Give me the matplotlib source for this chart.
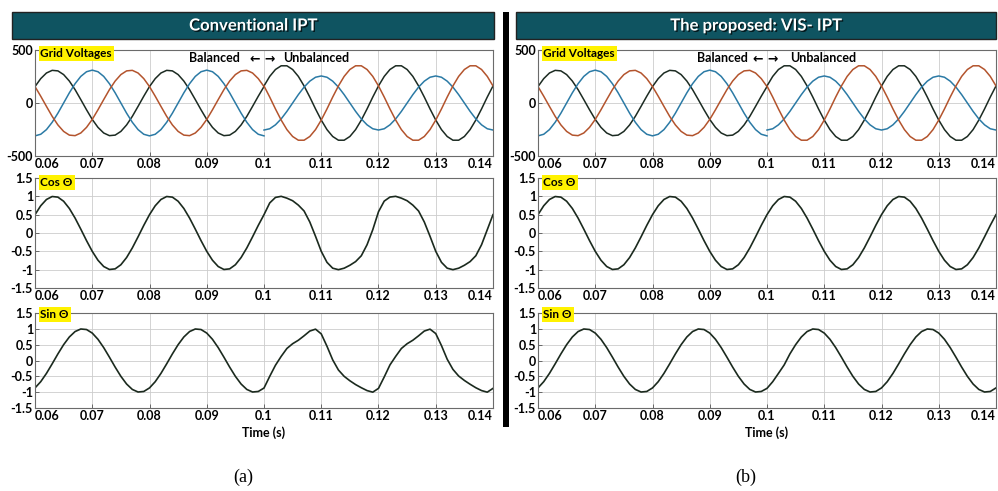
import numpy as np
import matplotlib
matplotlib.use("Agg")
import matplotlib.pyplot as plt
from matplotlib.patches import Rectangle
import matplotlib.patheffects as pe

plt.rcParams['font.family'] = ['Lato', 'DejaVu Sans']
plt.rcParams['font.weight'] = 'bold'

# time grid in seconds (1 ms steps)
t_bal = np.arange(60, 101) / 1000
t_unb = np.arange(100, 141) / 1000
t_all = np.arange(60, 141) / 1000

# grid voltages, balanced part 0.06 - 0.1 s (V)
va_bal = [155, 230, 283, 308, 303, 268, 207, 126, 32, -64,
          -155, -230, -283, -308, -303, -268, -207, -126, -32, 64,
          155, 230, 283, 308, 303, 268, 207, 126, 32, -64,
          -155, -230, -283, -308, -303, -268, -207, -126, -32, 64, 155]
vb_bal = [-310, -295, -251, -182, -96, 0, 96, 182, 251, 295,
          310, 295, 251, 182, 96, 0, -96, -182, -251, -295,
          -310, -295, -251, -182, -96, 0, 96, 182, 251, 295,
          310, 295, 251, 182, 96, 0, -96, -182, -251, -295, -310]
vc_bal = [155, 64, -32, -126, -207, -268, -303, -308, -283, -230,
          -155, -64, 32, 126, 207, 268, 303, 308, 283, 230,
          155, 64, -32, -126, -207, -268, -303, -308, -283, -230,
          -155, -64, 32, 126, 207, 268, 303, 308, 283, 230, 155]

# grid voltages, unbalanced part 0.1 - 0.14 s (V)
va_unb = [161, 251, 316, 351, 351, 316, 251, 161, 56, -56,
          -161, -251, -316, -351, -351, -316, -251, -161, -56, 56,
          161, 251, 316, 351, 351, 316, 251, 161, 56, -56,
          -161, -251, -316, -351, -351, -316, -251, -161, -56, 56, 161]
vb_unb = [-255, -243, -206, -150, -79, 0, 79, 150, 206, 243,
          255, 243, 206, 150, 79, 0, -79, -150, -206, -243,
          -255, -243, -206, -150, -79, 0, 79, 150, 206, 243,
          255, 243, 206, 150, 79, 0, -79, -150, -206, -243, -255]
vc_unb = [161, 56, -56, -161, -251, -316, -351, -351, -316, -251,
          -161, -56, 56, 161, 251, 316, 351, 351, 316, 251,
          161, 56, -56, -161, -251, -316, -351, -351, -316, -251,
          -161, -56, 56, 161, 251, 316, 351, 351, 316, 251, 161]

# (a) conventional IPT: cos / sin of the estimated angle, 0.06 - 0.14 s
cos_conv = [0.5, 0.743, 0.914, 0.995, 0.978, 0.866, 0.669, 0.407, 0.105, -0.208,
            -0.5, -0.743, -0.914, -0.995, -0.978, -0.866, -0.669, -0.407, -0.105, 0.208,
            0.5, 0.743, 0.914, 0.995, 0.978, 0.866, 0.669, 0.407, 0.105, -0.208,
            -0.5, -0.743, -0.914, -0.995, -0.978, -0.866, -0.669, -0.407, -0.105, 0.208,
            0.5, 0.82, 0.97, 1.0, 0.95, 0.88, 0.76, 0.60, 0.30, -0.09,
            -0.50, -0.80, -0.96, -1.0, -0.96, -0.88, -0.78, -0.62, -0.32, 0.09,
            0.58, 0.87, 0.98, 1.0, 0.95, 0.88, 0.76, 0.60, 0.30, -0.09,
            -0.50, -0.80, -0.96, -1.0, -0.96, -0.88, -0.78, -0.62, -0.32, 0.09, 0.5]
sin_conv = [-0.866, -0.669, -0.407, -0.105, 0.208, 0.5, 0.743, 0.914, 0.995, 0.978,
            0.866, 0.669, 0.407, 0.105, -0.208, -0.5, -0.743, -0.914, -0.995, -0.978,
            -0.866, -0.669, -0.407, -0.105, 0.208, 0.5, 0.743, 0.914, 0.995, 0.978,
            0.866, 0.669, 0.407, 0.105, -0.208, -0.5, -0.743, -0.914, -0.995, -0.978,
            -0.87, -0.50, -0.15, 0.13, 0.38, 0.53, 0.64, 0.78, 0.93, 0.99,
            0.84, 0.45, 0.02, -0.30, -0.50, -0.64, -0.76, -0.86, -0.95, -1.0,
            -0.88, -0.52, -0.14, 0.13, 0.38, 0.53, 0.64, 0.78, 0.93, 0.99,
            0.85, 0.47, 0.04, -0.28, -0.49, -0.63, -0.75, -0.86, -0.95, -1.0, -0.88]

# (b) proposed VIS-IPT
cos_vis = [0.5, 0.743, 0.914, 0.995, 0.978, 0.866, 0.669, 0.407, 0.105, -0.208,
           -0.5, -0.743, -0.914, -0.995, -0.978, -0.866, -0.669, -0.407, -0.105, 0.208,
           0.5, 0.743, 0.914, 0.995, 0.978, 0.866, 0.669, 0.407, 0.105, -0.208,
           -0.5, -0.743, -0.914, -0.995, -0.978, -0.866, -0.669, -0.407, -0.105, 0.208,
           0.5, 0.743, 0.914, 0.995, 0.978, 0.866, 0.669, 0.407, 0.105, -0.208,
           -0.5, -0.743, -0.914, -0.995, -0.978, -0.866, -0.669, -0.407, -0.105, 0.208,
           0.5, 0.743, 0.914, 0.995, 0.978, 0.866, 0.669, 0.407, 0.105, -0.208,
           -0.5, -0.743, -0.914, -0.995, -0.978, -0.866, -0.669, -0.407, -0.105, 0.208, 0.5]
sin_vis = [-0.866, -0.669, -0.407, -0.105, 0.208, 0.5, 0.743, 0.914, 0.995, 0.978,
           0.866, 0.669, 0.407, 0.105, -0.208, -0.5, -0.743, -0.914, -0.995, -0.978,
           -0.866, -0.669, -0.407, -0.105, 0.208, 0.5, 0.743, 0.914, 0.995, 0.978,
           0.866, 0.669, 0.407, 0.105, -0.208, -0.5, -0.743, -0.914, -0.995, -0.978,
           -0.88, -0.669, -0.407, -0.14, 0.208, 0.5, 0.743, 0.914, 0.995, 0.978,
           0.866, 0.669, 0.407, 0.105, -0.208, -0.5, -0.743, -0.914, -0.995, -0.978,
           -0.866, -0.669, -0.407, -0.105, 0.208, 0.5, 0.743, 0.914, 0.995, 0.978,
           0.866, 0.669, 0.407, 0.105, -0.208, -0.5, -0.743, -0.914, -0.995, -0.978, -0.866]

xticks = [0.06, 0.07, 0.08, 0.09, 0.1, 0.11, 0.12, 0.13, 0.14]
xlabels = ['0.06', '0.07', '0.08', '0.09', '0.1', '0.11', '0.12', '0.13', '0.14']
v_ticks = [-500, 0, 500]
v_labels = ['-500', '0', '500']
u_ticks = [-1.5, -1, -0.5, 0, 0.5, 1, 1.5]
u_labels = ['-1.5', '-1', '-0.5', '0', '0.5', '1', '1.5']

C_A, C_B, C_C = '#1c2b22', '#2b7aa5', '#b3542d'
C_TRACE = '#1b2a1e'
TEAL = '#0f5461'
YELLOW = '#fff200'

W, H = 998, 491
fig = plt.figure(figsize=(W / 100, H / 100), dpi=100)


def px_box(x0, y0, x1, y1):
    return [x0 / W, 1 - y1 / H, (x1 - x0) / W, (y1 - y0) / H]


def style(ax, yticks, ylabels, ylim):
    ax.set_xlim(0.06, 0.14)
    ax.set_ylim(*ylim)
    ax.set_xticks(xticks)
    ax.set_xticklabels(xlabels)
    labs = ax.get_xticklabels()
    labs[0].set_ha('left')
    labs[-1].set_ha('right')
    ax.set_yticks(yticks)
    ax.set_yticklabels(ylabels)
    ax.tick_params(direction='in', length=3, width=0.6, color='#555555',
                   labelsize=9, pad=1.5)
    ax.grid(True, color='#cccccc', lw=0.6)
    ax.set_axisbelow(True)
    for s in ax.spines.values():
        s.set_color('#6b6b6b')
        s.set_linewidth(0.8)


def tag(ax, text, y):
    ax.text(0.012, y, text, transform=ax.transAxes, ha='left', va='top',
            fontsize=8.5, zorder=6,
            bbox=dict(boxstyle='square,pad=0.15', fc=YELLOW, ec='none'))


def panel(x0, x1, bx0, bx1, title, cos_vals, sin_vals, sub, bal_end, unb_start):
    # title banner
    fig.add_artist(Rectangle((bx0 / W, 1 - 39 / H), (bx1 - bx0) / W, 27 / H,
                             transform=fig.transFigure, fc=TEAL, ec='#222222', lw=1))
    fig.text((bx0 + bx1) / 2 / W, 1 - 25.5 / H, title, color='white',
             fontsize=12, ha='center', va='center',
             path_effects=[pe.withSimplePatchShadow(offset=(1, -1), shadow_rgbFace='black', alpha=0.7)])

    ax1 = fig.add_axes(px_box(x0, 50, x1, 156))
    ax1.plot(t_bal, va_bal, color=C_A, lw=1.1)
    ax1.plot(t_bal, vb_bal, color=C_B, lw=1.1)
    ax1.plot(t_bal, vc_bal, color=C_C, lw=1.1)
    ax1.plot(t_unb, va_unb, color=C_A, lw=1.1)
    ax1.plot(t_unb, vb_unb, color=C_B, lw=1.1)
    ax1.plot(t_unb, vc_unb, color=C_C, lw=1.1)
    style(ax1, v_ticks, v_labels, (-500, 500))
    tag(ax1, 'Grid Voltages', 1.02)
    ax1.text(bal_end, 425, 'Balanced', ha='right', va='center', fontsize=9)
    ax1.text(0.0997, 415, '\u2190 \u2192', ha='center', va='center', fontsize=9,
             family=['DejaVu Sans'], weight='bold')
    ax1.text(unb_start, 425, 'Unbalanced', ha='left', va='center', fontsize=9)

    ax2 = fig.add_axes(px_box(x0, 178, x1, 288))
    ax2.plot(t_all, cos_vals, color=C_TRACE, lw=1.2)
    style(ax2, u_ticks, u_labels, (-1.5, 1.5))
    tag(ax2, 'Cos \u0398', 1.01)

    ax3 = fig.add_axes(px_box(x0, 313, x1, 408))
    ax3.plot(t_all, sin_vals, color=C_TRACE, lw=1.2)
    style(ax3, u_ticks, u_labels, (-1.5, 1.5))
    tag(ax3, 'Sin \u0398', 1.04)

    fig.text((x0 + x1) / 2 / W, 1 - 433 / H, 'Time (s)', ha='center', va='center',
             fontsize=9)
    fig.text(((x0 + x1) / 2 - 21) / W, 1 - 477 / H, sub, ha='center', va='center',
             fontsize=13, family='Liberation Serif', weight='normal')


panel(35, 493, 12, 494, 'Conventional IPT', cos_conv, sin_conv, '(a)', 0.0958, 0.1033)
panel(538, 996, 516, 996, 'The proposed: VIS- IPT', cos_vis, sin_vis, '(b)', 0.0966, 0.1040)

# separator bar between the two panels
fig.add_artist(Rectangle((503 / W, 1 - 427 / H), 6 / W, 415 / H,
                         transform=fig.transFigure, fc='black', ec='none'))

fig.savefig('out.png', dpi=100)
